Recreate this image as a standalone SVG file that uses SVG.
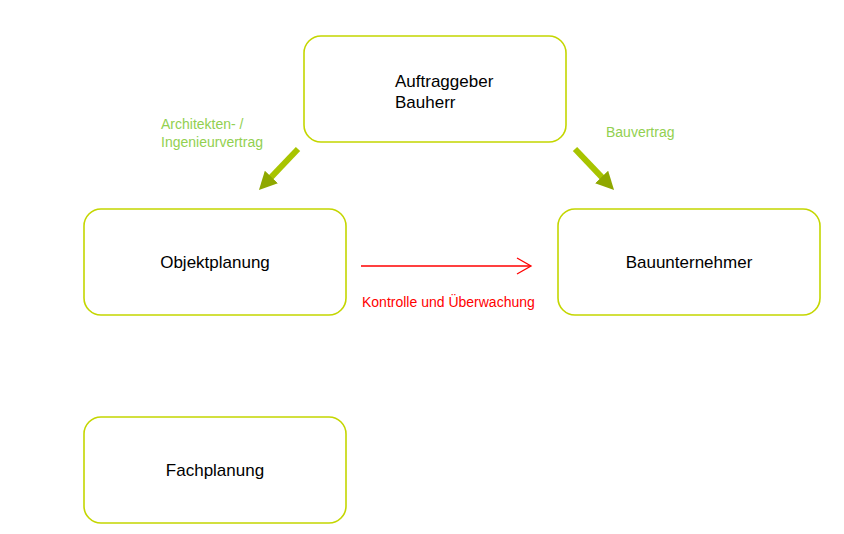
<svg xmlns="http://www.w3.org/2000/svg" width="844" height="534" viewBox="0 0 844 534">
<style>
.box{fill:#fff;stroke:#c4d600;stroke-width:1.6}
.t{font-family:"Liberation Sans",Arial,sans-serif;font-size:17px;fill:#000}
.g{font-family:"Liberation Sans",Arial,sans-serif;font-size:14px;fill:#92d050}
.r{font-family:"Liberation Sans",Arial,sans-serif;font-size:14px;fill:#ff0000}
.ga{stroke:#a8c400;stroke-width:6;fill:none}
</style>
<defs>
<marker id="gh" markerWidth="3" markerHeight="3" refX="0.5" refY="1.5" orient="auto" markerUnits="strokeWidth" viewBox="0 0 3 3">
<path d="M0,0 L3,1.5 L0,3 Z" fill="#8fa800"/>
</marker>
</defs>
<rect width="844" height="534" fill="#fff"/>
<g id="n-auftraggeber"><rect class="box" x="304" y="36" width="262" height="106" rx="17"/><text class="t" x="395" y="87">Auftraggeber</text><text class="t" x="395" y="108">Bauherr</text></g>
<g id="n-objektplanung"><rect class="box" x="84" y="209" width="262" height="106" rx="17"/><text class="t" x="215" y="268" text-anchor="middle">Objektplanung</text></g>
<g id="n-bauunternehmer"><rect class="box" x="558" y="209" width="262" height="106" rx="17"/><text class="t" x="689" y="268" text-anchor="middle">Bauunternehmer</text></g>
<g id="n-fachplanung"><rect class="box" x="84" y="417" width="262" height="106" rx="17"/><text class="t" x="215" y="476" text-anchor="middle">Fachplanung</text></g>
<g id="connectors">
<line class="ga" x1="298" y1="149" x2="269.3" y2="179.1" marker-end="url(#gh)"/>
<line class="ga" x1="575" y1="149" x2="603.7" y2="179.1" marker-end="url(#gh)"/>
<line x1="361" y1="266" x2="530" y2="266" stroke="#ff0000" stroke-width="1.3"/>
<path d="M517,258 L531,266 L517,274" fill="none" stroke="#ff0000" stroke-width="1.3"/>
<text class="g" x="161" y="129">Architekten- /</text>
<text class="g" x="161" y="147">Ingenieurvertrag</text>
<text class="g" x="606" y="137">Bauvertrag</text>
<text class="r" x="362" y="307">Kontrolle und Überwachung</text>
</g>
</svg>
